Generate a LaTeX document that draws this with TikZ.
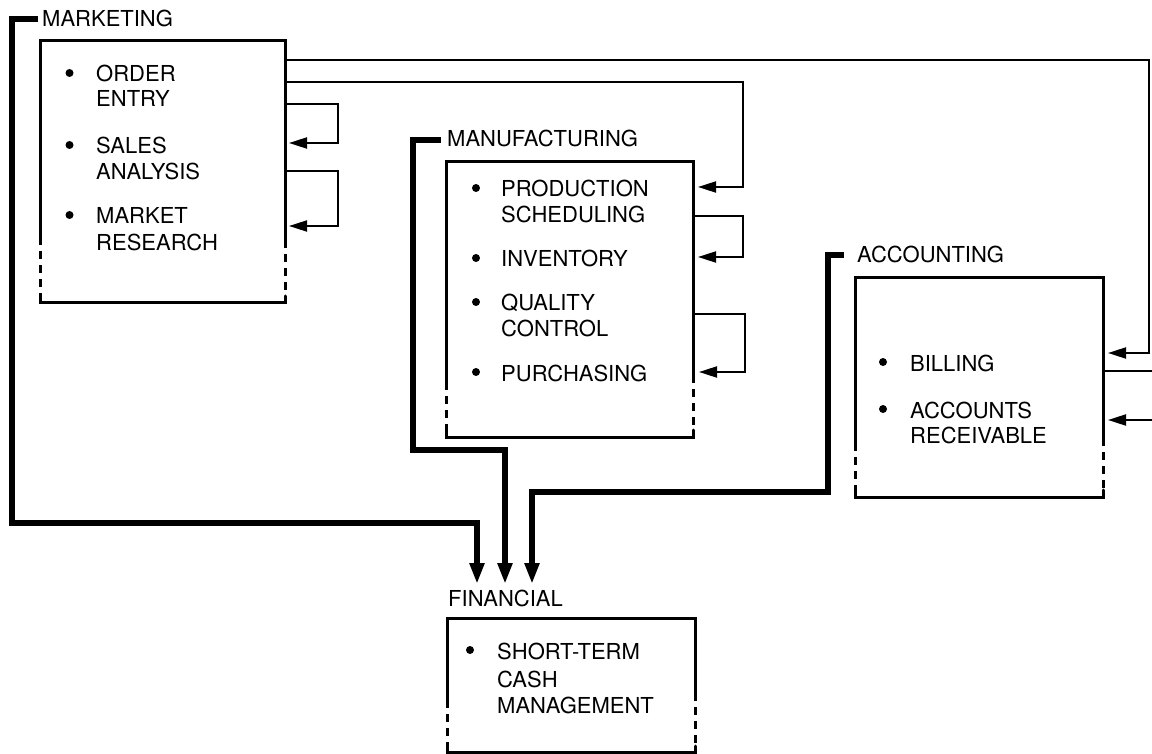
\documentclass[tikz,border=0pt]{standalone}
\usepackage{fontspec}
\setmainfont{TeX Gyre Heros}
\usetikzlibrary{arrows.meta}
\begin{document}
\begin{tikzpicture}[x=1pt,y=-1pt,
  txt/.style={anchor=base west,inner sep=0pt,font=\fontsize{22}{26}\selectfont},
  boxline/.style={line width=3pt,line cap=round},
  boxdash/.style={line width=3pt,dash pattern=on 8pt off 6pt},
  thin/.style={line width=2pt},
  thinarrow/.style={line width=2pt,-{Triangle[length=18pt,width=11pt]}},
  thick/.style={line width=5.5pt},
  thickarrow/.style={line width=5.5pt,-{Triangle[length=21pt,width=14pt]}},
  bul/.style={circle,fill=black,inner sep=0pt,minimum size=8pt}]
\useasboundingbox (0,0) rectangle (1152,754);

% ---------- MARKETING ----------
\node[txt] (mktl) at (42,27) {MARKETING};
\draw[boxline] (40,237) -- (40,41) -- (285,41) -- (285,240);
\draw[boxdash] (40,237) -- (40,303);
\draw[boxdash] (285,240) -- (285,303);
\draw[boxline] (40,296) -- (40,303) -- (285,303) -- (285,296);
\node[bul] (mb1) at (69.5,73) {};
\node[txt] (m1a) at (96,82) {ORDER};
\node[txt] (m1b) at (96,107) {ENTRY};
\node[bul] (mb2) at (69.5,145) {};
\node[txt] (m2a) at (96,154) {SALES};
\node[txt] (m2b) at (96,180) {ANALYSIS};
\node[bul] (mb3) at (69.5,215) {};
\node[txt] (m3a) at (96,224) {MARKET};
\node[txt] (m3b) at (96,251) {RESEARCH};

% ---------- MANUFACTURING ----------
\node[txt] (mfgl) at (447,147) {MANUFACTURING};
\draw[boxline] (446,382) -- (446,162) -- (693,162) -- (693,375);
\draw[boxdash] (446,382) -- (446,437);
\draw[boxdash] (693,375) -- (693,437);
\draw[boxline] (446,430) -- (446,437) -- (693,437) -- (693,430);
\node[bul] (fb1) at (476,188) {};
\node[txt] (f1a) at (501,197) {PRODUCTION};
\node[txt] (f1b) at (501,223) {SCHEDULING};
\node[bul] (fb2) at (476,258) {};
\node[txt] (f2a) at (501,267) {INVENTORY};
\node[bul] (fb3) at (476,302) {};
\node[txt] (f3a) at (501,310) {QUALITY};
\node[txt] (f3b) at (501,337) {CONTROL};
\node[bul] (fb4) at (476,372) {};
\node[txt] (f4a) at (501,381) {PURCHASING};

% ---------- ACCOUNTING ----------
\node[txt] (accl) at (857,263) {ACCOUNTING};
\draw[boxline] (855,443) -- (855,278) -- (1103,278) -- (1103,438);
\draw[boxdash] (855,443) -- (855,497);
\draw[boxdash] (1103,438) -- (1103,497);
\draw[boxline] (855,490) -- (855,497) -- (1103,497) -- (1103,490);
\node[bul] (ab1) at (883,362) {};
\node[txt] (a1a) at (910,371) {BILLING};
\node[bul] (ab2) at (883,409) {};
\node[txt] (a2a) at (910,418) {ACCOUNTS};
\node[txt] (a2b) at (910,443) {RECEIVABLE};

% ---------- FINANCIAL ----------
\node[txt] (finl) at (448,606) {FINANCIAL};
\draw[boxline] (447,700) -- (447,618) -- (695,618) -- (695,693);
\draw[boxdash] (447,700) -- (447,752);
\draw[boxdash] (695,693) -- (695,752);
\draw[boxline] (447,746) -- (447,752) -- (695,752) -- (695,746);
\node[bul] (nb1) at (470,650) {};
\node[txt] (n1a) at (497,659) {SHORT-TERM};
\node[txt] (n1b) at (497,687) {CASH};
\node[txt] (n1c) at (497,713) {MANAGEMENT};

% ---------- thin connectors ----------
\draw[thinarrow] (285,60) -- (1149,60) -- (1149,353) -- (1108,353);
\draw[thinarrow] (285,82) -- (743,82) -- (743,187) -- (698,187);
\draw[thinarrow] (285,104) -- (338,104) -- (338,143) -- (289,143);
\draw[thinarrow] (285,171) -- (338,171) -- (338,226) -- (289,226);
\draw[thinarrow] (693,216) -- (743,216) -- (743,257) -- (698,257);
\draw[thinarrow] (693,314) -- (745,314) -- (745,372) -- (699,372);
\draw[thin] (1103,371) -- (1152,371);
\draw[thinarrow] (1152,420) -- (1108,420);

% ---------- thick brackets to FINANCIAL ----------
\draw[thickarrow,line join=miter] (38,19) -- (12,19) -- (12,523) -- (477,523) -- (477,584);
\draw[thickarrow,line join=miter] (441,140) -- (413,140) -- (413,450) -- (505,450) -- (505,584);
\draw[thickarrow,line join=miter] (844,255) -- (828,255) -- (828,492) -- (532,492) -- (532,584);
\end{tikzpicture}
\end{document}
